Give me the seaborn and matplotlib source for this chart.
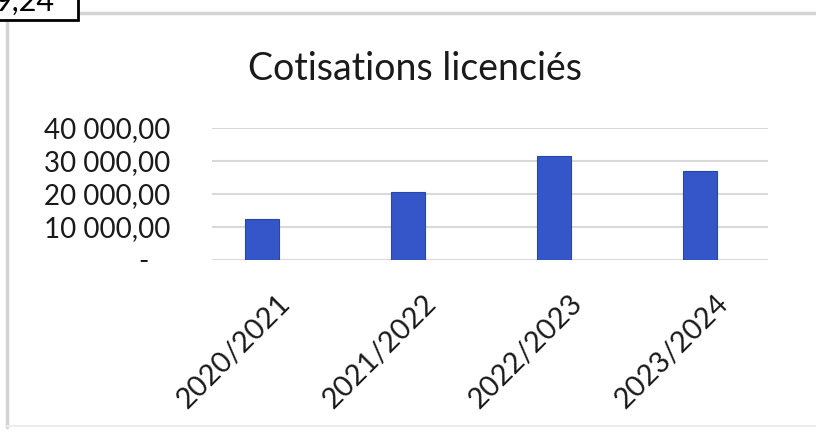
import matplotlib
matplotlib.use("Agg")
import matplotlib.pyplot as plt
import matplotlib.transforms as mtransforms
from matplotlib.patches import Rectangle
from matplotlib.lines import Line2D
import seaborn as sns
import pandas as pd

seasons = ["2020/2021", "2021/2022", "2022/2023", "2023/2024"]
cotisations = [12500, 20600, 31400, 26800]
y_ticks = [0, 10000, 20000, 30000, 40000]
title = "Cotisations licenciés"
corner_text = "9,24"

sns.set_theme(style="white")
plt.rcParams["font.family"] = ["Lato", "DejaVu Sans"]

W, H = 816, 432
fig = plt.figure(figsize=(W / 100, H / 100), dpi=100)
fig.patch.set_facecolor("white")

# axes geometry in pixels
left_px, right_px, top_px, bottom_px = 212, 768, 127.5, 260
ax = fig.add_axes([left_px / W, 1 - bottom_px / H, (right_px - left_px) / W, (bottom_px - top_px) / H])

df = pd.DataFrame({"saison": seasons, "montant": cotisations})
sns.barplot(data=df, x="saison", y="montant", color="#3556C8", width=0.23,
            saturation=1, ax=ax, edgecolor="#2a44a8", linewidth=0.8, zorder=3)

# bar centres at 262 + 146*i px
ppu = 146.0
ax.set_xlim((left_px - 262) / ppu, (right_px - 262) / ppu)
ax.set_ylim(0, 40000)
ax.set_yticks(y_ticks)

def fmt(v):
    if v == 0:
        return "-   "
    s = f"{int(v):,}".replace(",", " ")
    return s + ",00"

ax.set_yticklabels([fmt(v) for v in y_ticks], fontsize=20, color="#1a1a1a")
ax.yaxis.grid(True, color="#d9d9d9", linewidth=1.5, zorder=0)
ax.set_axisbelow(True)
for s in ax.spines.values():
    s.set_visible(False)
ax.set_xlabel("")
ax.set_ylabel("")
ax.tick_params(axis="y", length=0, pad=30)
ax.tick_params(axis="x", length=0, pad=0)
ax.set_xticks(range(len(seasons)))
ax.set_xticklabels(seasons, rotation=45, ha="right", va="center",
                   rotation_mode="anchor", fontsize=21, color="#1a1a1a")
offset = mtransforms.ScaledTranslation(0.24, -0.39, fig.dpi_scale_trans)
for lab in ax.get_xticklabels():
    lab.set_transform(lab.get_transform() + offset)

fig.text(415 / W, 1 - 80 / H, title, ha="center", va="baseline", fontsize=27, color="#1a1a1a")

# outer chart frame (screenshot border)
fig.add_artist(Line2D([7 / W, 7 / W], [1 - 13 / H, 1 - 427 / H], color="#d4d4d4", linewidth=2.5))
fig.add_artist(Line2D([7 / W, 1.0], [1 - 13 / H, 1 - 13 / H], color="#d4d4d4", linewidth=2.5))
fig.add_artist(Line2D([7 / W, 1.0], [1 - 426 / H, 1 - 426 / H], color="#ececec", linewidth=1.5))

# corner cell box
fig.add_artist(Rectangle((-0.01, 1 - 20 / H), 78 / W + 0.01, 0.2, transform=fig.transFigure,
                         facecolor="white", edgecolor="black", linewidth=2, zorder=5))
fig.text(-6 / W, 1 - 11 / H, corner_text, ha="left", va="baseline", fontsize=22,
         color="black", zorder=6)

fig.savefig("out.png", dpi=100, facecolor="white")
